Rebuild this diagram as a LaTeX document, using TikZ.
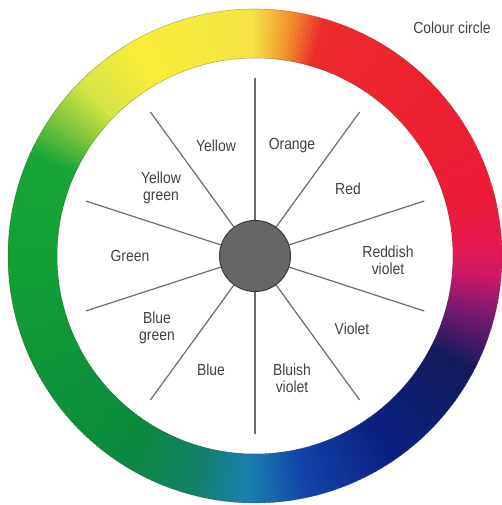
\documentclass[tikz,border=0pt]{standalone}
\usepackage{fontspec}
\setmainfont{Liberation Sans}[FakeStretch=0.87]
\usetikzlibrary{positioning}
\definecolor{CCText}{HTML}{424242}
\definecolor{CCSpoke}{HTML}{6C6C6C}
\definecolor{CCHub}{HTML}{666666}
\definecolor{CCHubEdge}{HTML}{3A3A3A}
\definecolor{CCEdge}{HTML}{404040}
% ring colours, counter-clockwise from the left
\definecolor{CCGreen}{HTML}{12A033}
\definecolor{CCGreenDeep}{HTML}{0B8A3C}
\definecolor{CCTealGreen}{HTML}{12806A}
\definecolor{CCTeal}{HTML}{1A7FB0}
\definecolor{CCBlue}{HTML}{1044A8}
\definecolor{CCNavy}{HTML}{0A2080}
\definecolor{CCNavyDark}{HTML}{141A5E}
\definecolor{CCPurple}{HTML}{7A1A6E}
\definecolor{CCMagenta}{HTML}{D01866}
\definecolor{CCPinkRed}{HTML}{E81A50}
\definecolor{CCRed}{HTML}{EC1B35}
\definecolor{CCRedWarm}{HTML}{EE2A2A}
\definecolor{CCOrange}{HTML}{F2922E}
\definecolor{CCYellowPale}{HTML}{F5E444}
\definecolor{CCYellow}{HTML}{F8EE36}
\definecolor{CCYellowGreen}{HTML}{D4E545}
\definecolor{CCLightGreen}{HTML}{7DC63E}
\definecolor{CCGreenBright}{HTML}{17A535}

\begin{document}
\begin{tikzpicture}[x=1pt,y=1pt,
    colourlabel/.style={align=center, text=CCText, font=\fontsize{16}{17}\selectfont},
    spoke/.style={draw=CCSpoke, line width=1.2pt}]
    \fill[white] (-255,-249) rectangle (247,256);
    \useasboundingbox (-255,-249) rectangle (247,256);
    % the colour ring, one degree at a time
    \foreach \a/\b/\ca/\cb in {-180/-125/CCGreen/CCGreenDeep, -125/-105/CCGreenDeep/CCTealGreen,
        -105/-92/CCTealGreen/CCTeal, -92/-78/CCTeal/CCBlue, -78/-56/CCBlue/CCNavy,
        -56/-28/CCNavy/CCNavyDark, -28/-15/CCNavyDark/CCPurple, -15/-5/CCPurple/CCMagenta,
        -5/3/CCMagenta/CCPinkRed, 3/15/CCPinkRed/CCRed, 15/73/CCRed/CCRedWarm,
        73/81/CCRedWarm/CCOrange, 81/90/CCOrange/CCYellowPale, 90/120/CCYellowPale/CCYellow,
        120/135/CCYellow/CCYellowGreen, 135/145/CCYellowGreen/CCLightGreen,
        145/155/CCLightGreen/CCGreenBright, 155/180/CCGreenBright/CCGreen}{
      \pgfmathtruncatemacro\n{\b-\a-1}
      \foreach \k in {0,...,\n}{
        \pgfmathsetmacro\p{100-100*\k/(\b-\a)}
        \pgfmathsetmacro\ang{\a+\k}
        \fill[\ca!\p!\cb] (\ang:198) arc[start angle=\ang, end angle=\ang+1.5, radius=198]
          -- (\ang+1.5:247) arc[start angle=\ang+1.5, end angle=\ang, radius=247] -- cycle;
      }
    }
    \draw[CCEdge, line width=0.6pt, opacity=0.35] (0,0) circle[radius=247];
    \draw[CCEdge, line width=0.6pt, opacity=0.35] (0,0) circle[radius=198];
    % hub and spokes
    \node[circle, fill=CCHub, draw=CCHubEdge, line width=1pt, minimum size=71, inner sep=0] (hub) at (0,0) {};
    \foreach \i in {0,...,9}{
      \coordinate (tip\i) at (90-36*\i:178);
      \draw[spoke] (hub) -- (tip\i);
    }
    \node[colourlabel] (lYellow) at (-39,110) {Yellow};
    \node[colourlabel] (lOrange) at (37,110) {Orange};
    \node[colourlabel] (lRed) at (93,67) {Red};
    \node[colourlabel] (lReddishViolet) at (133,-4) {Reddish\\violet};
    \node[colourlabel] (lViolet) at (97,-73) {Violet};
    \node[colourlabel] (lBluishViolet) at (37,-122) {Bluish\\violet};
    \node[colourlabel] (lBlue) at (-44,-114) {Blue};
    \node[colourlabel] (lBlueGreen) at (-98,-72) {Blue\\green};
    \node[colourlabel] (lGreen) at (-125,0) {Green};
    \node[colourlabel] (lYellowGreen) at (-94,68) {Yellow\\green};
    \node[colourlabel] (title) at (197,228) {Colour circle};
\end{tikzpicture}
\end{document}
